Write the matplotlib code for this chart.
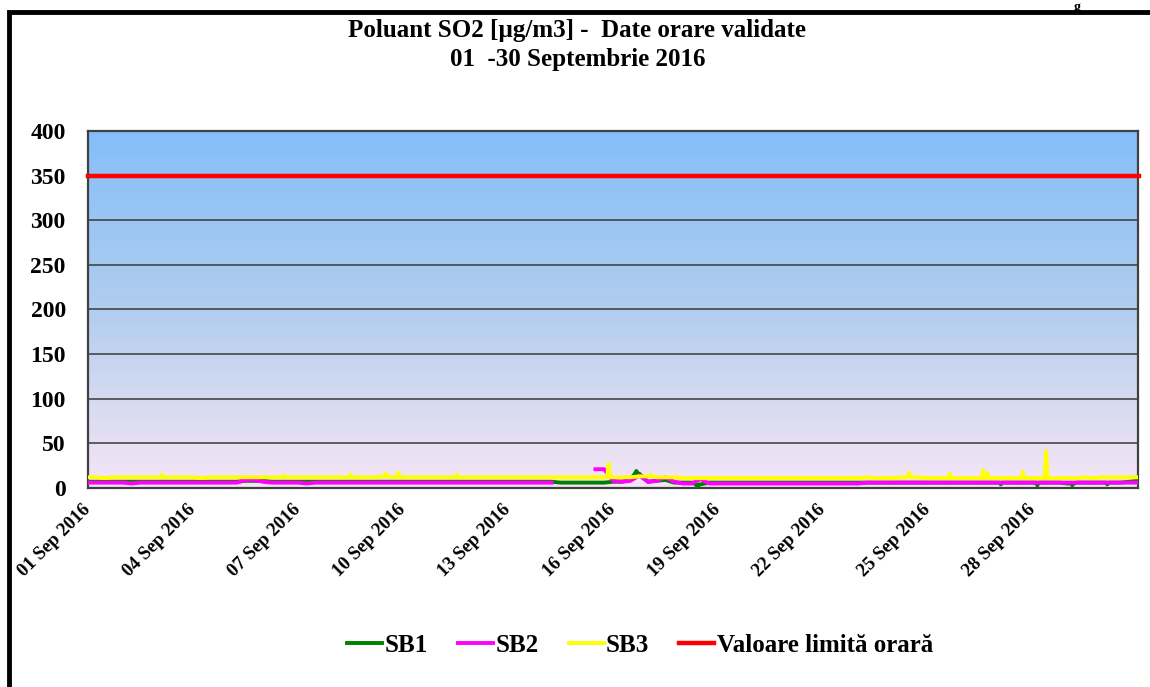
import numpy as np
import matplotlib.pyplot as plt
import matplotlib.transforms as mtransforms
from matplotlib.colors import LinearSegmentedColormap
from matplotlib.patches import Rectangle

# --- data (hours from 01 Sep 2016 00:00, 6-hour base grid, one row per day) ---
hours = np.arange(0, 721, 6)
nan = np.nan

sb1 = [7, 7, 7, 7,      # 01
       7, 7, 7, 7,      # 02
       7, 7, 7, 7,      # 03
       7, 7, 7, 7,      # 04
       7, 7, 8, 8,      # 05
       8, 7, 7, 7,      # 06
       7, 7, 7, 7,      # 07
       7, 7, 7, 7,      # 08
       7, 7, 7, 7,      # 09
       7, 7, 7, 7,      # 10
       7, 7, 7, 7,      # 11
       7, 7, 7, 7,      # 12
       7, 7, 7, 7,      # 13
       7, 7, 6, 6,      # 14
       6, 6, 6, 6,      # 15
       7, 7, 9, 16,     # 16
       7, 8, 9, 6,      # 17
       6, 6, 4, 6,      # 18
       6, 6, 6, 6,      # 19
       6, 6, 6, 6,      # 20
       6, 6, 6, 6,      # 21
       6, 6, 6, 6,      # 22
       6, 6, 6, 6,      # 23
       6, 6, 6, 6,      # 24
       6, 6, 6, 6,      # 25
       6, 6, 6, 6,      # 26
       6, 6, 6, 6,      # 27
       6, 6, 6, 6,      # 28
       5, 6, 6, 6,      # 29
       6, 6, 6, 7,      # 30
       8]
sb2 = [6, 6, 6, 6,      # 01
       6, 5, 6, 6,      # 02
       6, 6, 6, 6,      # 03
       6, 6, 6, 6,      # 04
       6, 6, 9, 9,      # 05
       7, 6, 6, 6,      # 06
       6, 5, 6, 6,      # 07
       6, 6, 6, 6,      # 08
       6, 6, 6, 6,      # 09
       6, 6, 6, 6,      # 10
       6, 6, 6, 6,      # 11
       6, 6, 6, 6,      # 12
       6, 6, 6, 6,      # 13
       6, 6, nan, nan,  # 14
       nan, nan, 21, 21,  # 15
       8, 7, 8, 14,     # 16
       7, 8, 12, 7,     # 17
       5, 5, 10, 5,     # 18
       5, 5, 5, 5,      # 19
       5, 5, 5, 5,      # 20
       5, 5, 5, 5,      # 21
       5, 5, 5, 5,      # 22
       5, 6, 6, 6,      # 23
       6, 6, 6, 6,      # 24
       6, 6, 6, 6,      # 25
       6, 6, 6, 6,      # 26
       6, 6, 6, 6,      # 27
       6, 6, 6, 6,      # 28
       6, 6, 6, 6,      # 29
       6, 6, 6, 6,      # 30
       6]
sb3 = [12, 12, 11, 12,  # 01
       12, 12, 12, 12,  # 02
       12, 12, 12, 12,  # 03
       12, 11, 12, 12,  # 04
       12, 12, 12, 12,  # 05
       12, 12, 12, 12,  # 06
       12, 12, 12, 12,  # 07
       12, 12, 12, 12,  # 08
       12, 12, 13, 12,  # 09
       12, 12, 12, 12,  # 10
       12, 12, 12, 12,  # 11
       12, 12, 12, 12,  # 12
       12, 12, 12, 12,  # 13
       12, 12, 12, 12,  # 14
       12, 12, 12, 12,  # 15
       12, 12, 12, 13,  # 16
       13, 12, 12, 12,  # 17
       11, 11, 11, 11,  # 18
       11, 11, 11, 11,  # 19
       11, 11, 11, 11,  # 20
       11, 11, 11, 11,  # 21
       11, 11, 11, 11,  # 22
       11, 12, 11, 11,  # 23
       11, 12, 12, 12,  # 24
       11, 11, 11, 11,  # 25
       11, 11, 11, 11,  # 26
       11, 11, 11, 11,  # 27
       11, 11, 11, 11,  # 28
       11, 11, 12, 11,  # 29
       12, 12, 12, 12,  # 30
       12]

# short hourly peaks / dips between grid points: (hour, value)
sb1_peaks_h = [376, 418, 626, 651, 675, 699]
sb1_peaks_v = [19, 1, 4, 3, 3, 4]
sb3_peaks_h = [51, 134, 180, 204, 213, 253, 357, 386, 563, 591, 614, 617, 641, 657]
sb3_peaks_v = [15, 14, 15, 16, 17, 15, 27, 15, 17, 16, 20, 16, 18, 41]

limit_value = 350
tick_hours = [0, 72, 144, 216, 288, 360, 432, 504, 576, 648]
tick_labels = ['01 Sep 2016', '04 Sep 2016', '07 Sep 2016', '10 Sep 2016',
               '13 Sep 2016', '16 Sep 2016', '19 Sep 2016', '22 Sep 2016',
               '25 Sep 2016', '28 Sep 2016']


def with_peaks(base, peak_h, peak_v):
    """Insert narrow hourly peaks into the 6-hour series."""
    base = np.asarray(base, dtype=float)
    xs = list(hours)
    ys = list(base)
    for h, v in zip(peak_h, peak_v):
        b = base[int(round(h / 6))]
        xs += [h - 1, h, h + 1]
        ys += [b, v, b]
    order = np.argsort(xs, kind='stable')
    return np.array(xs)[order], np.array(ys)[order]


plt.rcParams['font.family'] = ['Liberation Serif', 'DejaVu Serif']
plt.rcParams['font.weight'] = 'bold'

fig = plt.figure(figsize=(11.5, 6.87), dpi=100)
ax = fig.add_axes([0.0765, 0.2897, 0.9130, 0.5196])

# gradient background
cmap = LinearSegmentedColormap.from_list(
    'bg', [(0, '#F5E6F7'), (0.15, '#E3DFF2'), (0.5, '#B2CDEE'), (1.0, '#84BEFA')])
grad = np.linspace(0, 1, 256).reshape(-1, 1)
ax.imshow(grad, cmap=cmap, aspect='auto', origin='lower',
          extent=[0, 720, 0, 400], zorder=0)

for yv in range(50, 400, 50):
    ax.axhline(yv, color='#3a3a3a', lw=1.1, zorder=1)

x1, y1 = with_peaks(sb1, sb1_peaks_h, sb1_peaks_v)
x2, y2 = with_peaks(sb2, [], [])
x3, y3 = with_peaks(sb3, sb3_peaks_h, sb3_peaks_v)
ax.plot(x1, y1, color='#008000', lw=2.8, label='SB1', zorder=3)
ax.plot(x2, y2, color='#FF00FF', lw=2.8, label='SB2', zorder=4)
ax.plot(x3, y3, color='#FFFF00', lw=2.8, label='SB3', zorder=5)
ax.plot([0, 721], [limit_value, limit_value], color='#FF0000', lw=3.2,
        label='Valoare limită orară', zorder=6, clip_on=False)

ax.set_xlim(0, 720)
ax.set_ylim(0, 400)
ax.set_yticks(range(0, 401, 50))
ax.tick_params(axis='y', length=0, pad=16, labelsize=17)
ax.set_xticks(tick_hours)
ax.set_xticklabels(tick_labels, rotation=45, ha='right', rotation_mode='anchor',
                   fontsize=13.5)
ax.tick_params(axis='x', length=0, pad=8)
shift = mtransforms.ScaledTranslation(-6 / 100, -2 / 100, fig.dpi_scale_trans)
for lab in ax.get_xticklabels():
    lab.set_transform(lab.get_transform() + shift)
for s in ax.spines.values():
    s.set_color('#404040')
    s.set_linewidth(1.6)

fig.text(0.502, 0.955, 'Poluant SO2 [µg/m3] -  Date orare validate',
         ha='center', va='center', fontsize=18, fontweight='bold')
fig.text(0.502, 0.914, '01  -30 Septembrie 2016',
         ha='center', va='center', fontsize=18, fontweight='bold')

# outer frame (extends beyond right/bottom edges of the image)
fig.patches.append(Rectangle((9 / 1150, -0.1), 1.2, (687 - 12) / 687 + 0.1,
                             transform=fig.transFigure, fill=False,
                             edgecolor='black', lw=3.5))
fig.text(1074 / 1150, 1 - 1 / 687, 'g', ha='left', va='top',
         fontsize=10, fontweight='bold')

fig.legend(loc='center', bbox_to_anchor=(640 / 1150, 1 - 645 / 687), ncol=4,
           frameon=False, fontsize=18, handlelength=1.4, handletextpad=0.1,
           columnspacing=1.2)

fig.savefig('out.png', dpi=100)
